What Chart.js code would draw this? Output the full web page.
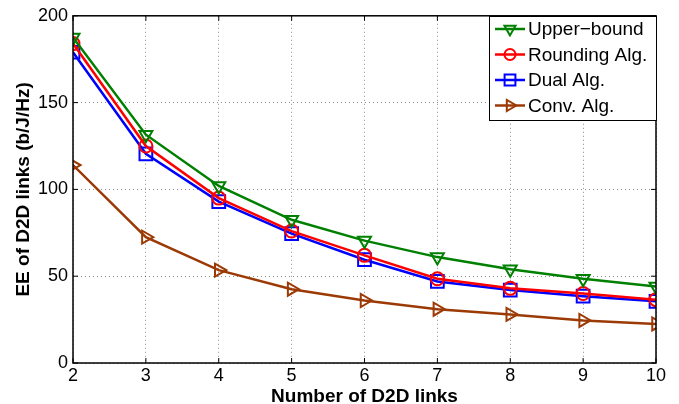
<!DOCTYPE html>
<html>
<head>
<meta charset="utf-8">
<script src="https://cdn.jsdelivr.net/npm/chart.js@4/dist/chart.umd.min.js"></script>
<style>
html,body{margin:0;padding:0;background:#fff;}
#wrap{width:679px;height:404px;position:relative;}
</style>
</head>
<body>
<div id="wrap"><canvas id="c" width="679" height="404"></canvas></div>
<script>
const links = [2, 3, 4, 5, 6, 7, 8, 9, 10];
const upperBound = [187.5, 131.5, 102, 82.5, 70.5, 61, 54, 48.5, 44];
const roundingAlg = [184, 125, 95, 76, 62, 48.5, 43, 40, 36.5];
const dualAlg = [179, 120.5, 93, 74.5, 59.5, 47, 42, 38.5, 35.5];
const convAlg = [114, 72.5, 53.5, 42.5, 36, 31, 28, 24.5, 22.5];
const seriesNames = ['Upper\u2212bound', 'Rounding Alg.', 'Dual Alg.', 'Conv. Alg.'];
const yTicks = [0, 50, 100, 150, 200];
const xLabel = 'Number of D2D links';
const yLabel = 'EE of D2D links (b/J/Hz)';

const FONT = "'Liberation Sans', Arial, Helvetica, sans-serif";

function pts(arr){ return links.map((x,i)=>({x:x, y:arr[i]})); }

function ds(label, arr, color, style, rot, r){
  return {
    label: label, data: pts(arr), borderColor: color, backgroundColor: 'rgba(0,0,0,0)',
    borderWidth: 2.5, pointStyle: style, pointRotation: rot, pointRadius: r,
    pointBorderWidth: 2, pointBorderColor: color, pointBackgroundColor: 'rgba(0,0,0,0)',
    tension: 0, fill: false
  };
}

const framePlugin = {
  id: 'frame',
  afterDraw(chart){
    const ctx = chart.ctx, a = chart.chartArea;
    const xs = chart.scales.x, ys = chart.scales.y;
    ctx.save();
    ctx.strokeStyle = '#000';
    ctx.lineWidth = 1.5;
    ctx.strokeRect(a.left, a.top, a.right - a.left, a.bottom - a.top);
    ctx.lineWidth = 1;
    const tl = 5;
    links.forEach(v => {
      const px = xs.getPixelForValue(v);
      ctx.beginPath();
      ctx.moveTo(px, a.bottom); ctx.lineTo(px, a.bottom - tl);
      ctx.moveTo(px, a.top); ctx.lineTo(px, a.top + tl);
      ctx.stroke();
    });
    yTicks.forEach(v => {
      const py = ys.getPixelForValue(v);
      ctx.beginPath();
      ctx.moveTo(a.left, py); ctx.lineTo(a.left + tl, py);
      ctx.moveTo(a.right, py); ctx.lineTo(a.right - tl, py);
      ctx.stroke();
    });
    // legend box
    const bx = 489, by = 16, bw = 167, bh = 104;
    ctx.fillStyle = '#fff';
    ctx.fillRect(bx, by, bw, bh);
    ctx.strokeStyle = '#000';
    ctx.lineWidth = 1;
    ctx.strokeRect(bx + 0.5, by + 0.5, bw, bh);
    ctx.font = '19px ' + FONT;
    ctx.textBaseline = 'middle';
    ctx.textAlign = 'left';
    chart.data.datasets.forEach((d, i) => {
      const cy = by + 13 + i * 25.5;
      ctx.strokeStyle = d.borderColor;
      ctx.lineWidth = 2.5;
      ctx.beginPath();
      ctx.moveTo(bx + 6, cy); ctx.lineTo(bx + 36, cy);
      ctx.stroke();
      ctx.lineWidth = 2;
      ctx.fillStyle = 'rgba(0,0,0,0)';
      Chart.helpers.drawPoint(ctx, {pointStyle: d.pointStyle, rotation: d.pointRotation, radius: d.pointRadius * 0.85, borderWidth: 2}, bx + 21, cy);
      ctx.fillStyle = '#000';
      ctx.fillText(d.label, bx + 39, cy + 1);
    });
    ctx.restore();
  }
};

new Chart(document.getElementById('c'), {
  type: 'line',
  data: {
    datasets: [
      ds(seriesNames[0], upperBound, '#008000', 'triangle', 180, 7.5),
      ds(seriesNames[1], roundingAlg, '#ff0000', 'circle', 0, 6.5),
      ds(seriesNames[2], dualAlg, '#0000ff', 'rect', 0, 9),
      ds(seriesNames[3], convAlg, '#9c3a06', 'triangle', 90, 7.5)
    ]
  },
  options: {
    responsive: false,
    animation: false,
    devicePixelRatio: 1,
    layout: { padding: { left: 0, right: 23, top: 15, bottom: 0 } },
    plugins: { legend: { display: false }, tooltip: { enabled: false } },
    scales: {
      x: {
        type: 'linear', min: 2, max: 10,
        afterFit(s){ s.height = 41; },
        afterBuildTicks(s){ s.ticks = links.map(v => ({value: v})); },
        ticks: { color: '#000', font: { family: FONT, size: 18 }, padding: 2, maxRotation: 0, autoSkip: false },
        grid: { color: 'rgba(0,0,0,0.45)', lineWidth: 1, drawTicks: false },
        border: { display: false, dash: [1, 3] },
        title: { display: true, text: xLabel, color: '#000', font: { family: FONT, size: 19, weight: 'bold', lineHeight: 1.2 }, padding: { top: 0, bottom: -4 } }
      },
      y: {
        type: 'linear', min: 0, max: 200,
        afterFit(s){ s.width = 73; },
        afterBuildTicks(s){ s.ticks = yTicks.map(v => ({value: v})); },
        ticks: { color: '#000', font: { family: FONT, size: 18 }, padding: 5 },
        grid: { color: 'rgba(0,0,0,0.45)', lineWidth: 1, drawTicks: false },
        border: { display: false, dash: [1, 3] },
        title: { display: true, text: yLabel, color: '#000', font: { family: FONT, size: 19, weight: 'bold', lineHeight: 1.2 }, padding: { top: 12, bottom: 0 } }
      }
    }
  },
  plugins: [framePlugin]
});
</script>
</body>
</html>
